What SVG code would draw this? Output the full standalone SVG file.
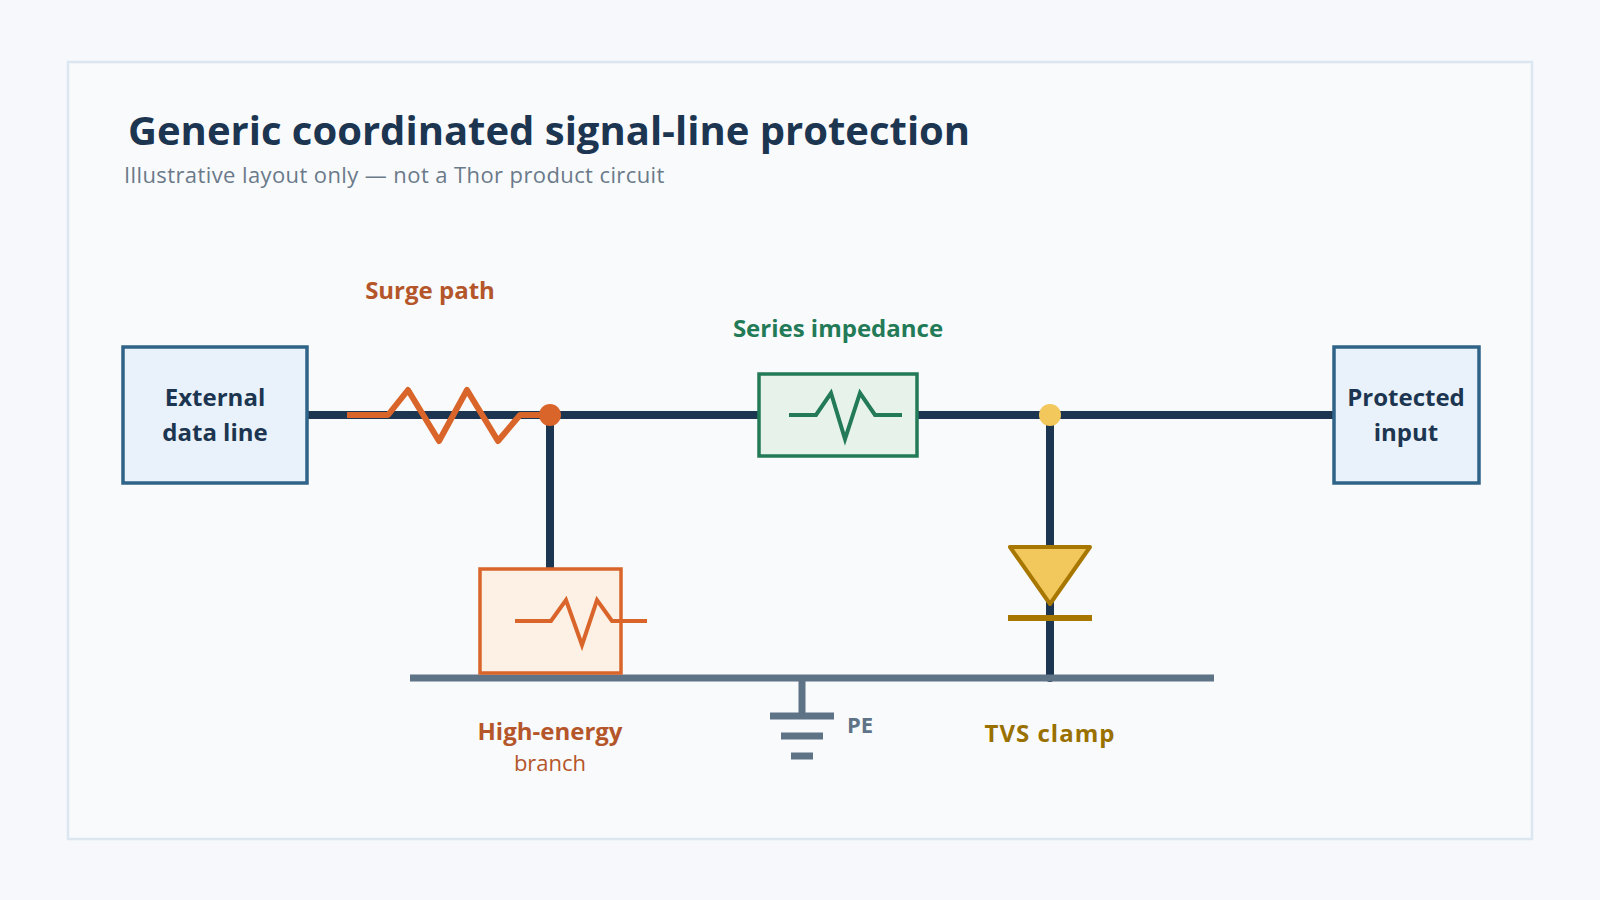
<svg xmlns="http://www.w3.org/2000/svg" width="1600" height="900" viewBox="0 0 1600 900">
<style>
text{font-family:"Open Sans","Liberation Sans",Arial,sans-serif}
.wire{stroke:#1c3550;stroke-width:8;fill:none;stroke-linecap:round}
.box{fill:#e9f2fa;stroke:#2f6388;stroke-width:3.5}
.bt{font-size:24px;font-weight:bold;fill:#1c3550;text-anchor:middle}
.lb{font-size:24px;font-weight:bold;text-anchor:middle}
</style>
<rect width="1600" height="900" fill="#f6f8fb"/>
<rect x="68" y="62" width="1464" height="777" fill="#f8fafc" stroke="#dbe6f1" stroke-width="2.5"/>
<text x="128" y="145" font-size="40" font-weight="bold" fill="#1c3550">Generic coordinated signal-line protection</text>
<text x="124" y="183" font-size="22" letter-spacing="0.4" fill="#6b7a8a">Illustrative layout only — not a Thor product circuit</text>
<g id="connectors">
<line class="wire" x1="307" y1="415" x2="1335" y2="415"/>
<line class="wire" x1="550" y1="415" x2="550" y2="569"/>
<line class="wire" x1="1050" y1="415" x2="1050" y2="678"/>
<line x1="410" y1="678" x2="1214" y2="678" stroke="#5f7387" stroke-width="7"/>
<polyline points="347,415 388,415 408,390 439,441 467,390 498,441 520,415 550,415" fill="none" stroke="#d9652a" stroke-width="6" stroke-linejoin="round"/>
<circle cx="550" cy="415" r="11" fill="#d9652a"/>
<circle cx="1050" cy="415" r="11" fill="#f2c75c"/>
</g>
<g id="external"><rect class="box" x="123" y="347" width="184" height="136"/><text class="bt" x="215" y="406">External</text><text class="bt" x="215" y="441">data line</text></g>
<g id="protected"><rect class="box" x="1334" y="347" width="145" height="136"/><text class="bt" x="1406" y="406">Protected</text><text class="bt" x="1406" y="441">input</text></g>
<g id="series"><rect x="759" y="374" width="158" height="82" fill="#e6f2ea" stroke="#237a57" stroke-width="3.5"/>
<polyline points="789,415 816,415 831,393 845,439 860,393 875,415 902,415" fill="none" stroke="#237a57" stroke-width="4"/>
<text class="lb" x="838" y="337" fill="#237a57">Series impedance</text></g>
<g id="highenergy"><rect x="480" y="569" width="141" height="104" fill="#fdf0e5" stroke="#d9652a" stroke-width="3.5"/>
<polyline points="515,621 551,621 566,600 582,645 597,600 612,621 647,621" fill="none" stroke="#d9652a" stroke-width="4"/>
<text class="lb" x="550" y="740" fill="#b5562a">High-energy</text><text x="550" y="771" font-size="22" fill="#b5562a" text-anchor="middle">branch</text></g>
<g id="surge"><text class="lb" x="430" y="299" fill="#b5562a">Surge path</text></g>
<g id="tvs"><polygon points="1010,547 1090,547 1050,604" fill="#f2c75c" stroke="#a87700" stroke-width="4" stroke-linejoin="round"/>
<line x1="1008" y1="618" x2="1092" y2="618" stroke="#a87700" stroke-width="6"/>
<text class="lb" x="1050" y="742" letter-spacing="1" fill="#9a7000">TVS clamp</text></g>
<g id="pe" stroke="#5f7387" stroke-width="7"><line x1="802" y1="678" x2="802" y2="716"/><line x1="770" y1="716" x2="834" y2="716"/><line x1="781" y1="736" x2="823" y2="736"/><line x1="791" y1="756" x2="813" y2="756"/>
<text x="847" y="733" font-size="22" font-weight="bold" fill="#5f7387" stroke="none">PE</text></g>
</svg>
